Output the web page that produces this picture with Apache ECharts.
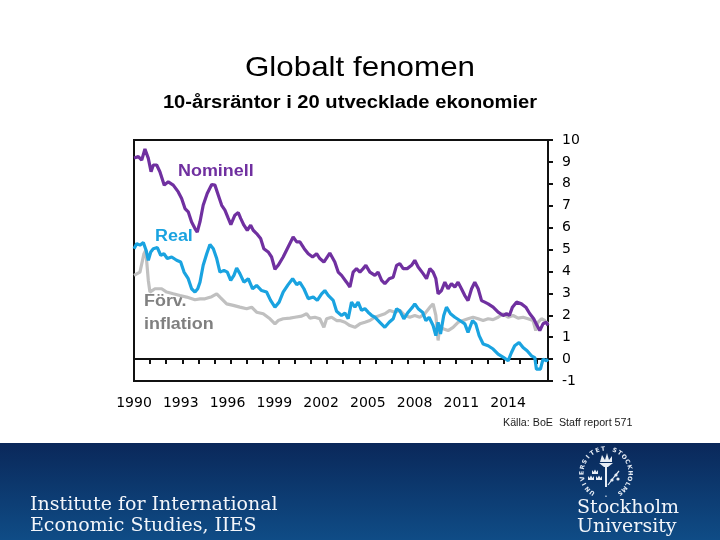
<!DOCTYPE html>
<html>
<head>
<meta charset="utf-8">
<script src="https://cdn.jsdelivr.net/npm/echarts@6/dist/echarts.min.js"></script>
<style>
  html, body { margin: 0; padding: 0; background: #ffffff; }
  #chart-root { width: 720px; height: 540px; }
</style>
</head>
<body>
<div id="chart-root"></div>
<script>
// 10-year yields, 20 advanced economies
const nomYears = [1990.00,1990.27,1990.48,1990.68,1990.89,1991.06,1991.20,1991.41,1991.61,1991.88,
  1992.13,1992.44,1992.75,1992.96,1993.17,1993.37,1993.58,1993.79,1993.93,1994.10,
  1994.30,1994.55,1994.83,1995.03,1995.24,1995.45,1995.65,1995.86,1996.02,1996.27,
  1996.48,1996.63,1996.83,1997.04,1997.25,1997.41,1997.62,1997.87,1998.07,1998.34,
  1998.55,1998.76,1998.96,1999.27,1999.58,1999.89,2000.11,2000.31,2000.58,2000.83,
  2001.10,2001.35,2001.55,2001.80,2002.17,2002.48,2002.69,2002.90,2003.21,2003.42,
  2003.62,2003.83,2004.04,2004.24,2004.41,2004.66,2004.97,2005.17,2005.39,2005.59,
  2005.86,2006.11,2006.32,2006.52,2006.73,2006.98,2007.25,2007.45,2007.66,2007.97,
  2008.18,2008.39,2008.59,2008.76,2008.90,2009.11,2009.32,2009.52,2009.73,2009.94,
  2010.14,2010.35,2010.56,2010.76,2010.98,2011.18,2011.39,2011.60,2011.80,2012.01,
  2012.32,2012.63,2012.94,2013.15,2013.33,2013.52,2013.77,2014.08,2014.35,2014.60,
  2014.84,2015.05,2015.22,2015.42,2015.63,2015.73];
const nomVals = [9.18,9.24,9.08,9.59,9.16,8.55,8.86,8.86,8.55,7.94,
  8.09,7.94,7.63,7.33,6.87,6.72,6.26,5.96,5.80,6.26,
  7.02,7.56,7.97,7.94,7.48,7.02,6.80,6.42,6.14,6.57,
  6.69,6.42,6.11,5.88,6.11,5.88,5.73,5.50,5.04,4.89,
  4.66,4.10,4.28,4.66,5.12,5.57,5.35,5.35,5.04,4.81,
  4.66,4.81,4.59,4.43,4.84,4.43,3.97,3.82,3.51,3.29,
  3.97,4.13,3.97,4.13,4.28,3.97,3.82,3.97,3.59,3.44,
  3.67,3.74,4.28,4.36,4.13,4.13,4.28,4.51,4.20,3.90,
  3.67,4.13,3.97,3.67,2.98,3.13,3.51,3.21,3.44,3.29,
  3.51,3.21,2.90,2.67,3.21,3.51,3.21,2.67,2.60,2.52,
  2.37,2.14,1.99,2.07,1.99,2.37,2.60,2.52,2.37,2.07,
  1.84,1.53,1.30,1.61,1.68,1.53];

const realYears = [1990.00,1990.17,1990.37,1990.58,1990.75,1990.89,1991.04,1991.20,1991.45,1991.66,
  1991.86,1992.07,1992.34,1992.65,1992.90,1993.11,1993.37,1993.58,1993.79,1993.96,
  1994.10,1994.30,1994.52,1994.72,1994.93,1995.14,1995.34,1995.59,1995.80,1996.01,
  1996.21,1996.38,1996.58,1996.83,1997.10,1997.37,1997.62,1997.93,1998.24,1998.49,
  1998.76,1999.02,1999.27,1999.58,1999.86,2000.11,2000.31,2000.56,2000.83,2001.14,
  2001.39,2001.66,2001.86,2002.07,2002.38,2002.59,2002.90,2003.11,2003.31,2003.52,
  2003.73,2003.93,2004.14,2004.35,2004.55,2004.76,2004.97,2005.28,2005.59,2005.86,
  2006.11,2006.32,2006.52,2006.77,2007.04,2007.31,2007.45,2007.66,2007.93,2008.14,
  2008.34,2008.59,2008.76,2008.90,2009.05,2009.25,2009.42,2009.67,2009.94,2010.25,
  2010.56,2010.76,2011.04,2011.24,2011.45,2011.70,2012.01,2012.32,2012.63,2012.98,
  2013.25,2013.46,2013.66,2013.93,2014.18,2014.43,2014.70,2014.91,2015.01,2015.26,
  2015.42,2015.63,2015.73];
const realVals = [5.04,5.27,5.20,5.32,4.97,4.51,4.89,5.04,5.09,4.74,
  4.81,4.59,4.66,4.51,4.43,3.97,3.67,3.21,3.06,3.21,
  3.51,4.28,4.81,5.23,5.04,4.59,3.97,4.05,3.97,3.59,
  3.82,4.15,3.90,3.51,3.67,3.21,3.36,3.13,3.06,2.68,
  2.37,2.60,3.06,3.40,3.67,3.40,3.50,3.21,2.76,2.83,
  2.68,2.98,3.13,2.91,2.68,2.18,1.99,2.10,1.84,2.60,
  2.37,2.60,2.22,2.30,2.14,2.00,1.91,1.68,1.45,1.68,
  1.84,2.30,2.20,1.84,2.14,2.37,2.52,2.30,2.14,1.76,
  1.91,1.53,1.07,1.68,1.15,1.99,2.37,2.07,1.91,1.76,
  1.61,1.22,1.76,1.61,1.07,0.69,0.61,0.46,0.23,0.07,
  -0.08,0.30,0.61,0.76,0.53,0.38,0.15,0.07,-0.46,-0.46,
  0.00,-0.08,0.00];

const inflYears = [1990.00,1990.37,1990.62,1990.73,1990.89,1990.99,1991.30,1991.72,1992.03,1992.44,
  1992.86,1993.27,1993.79,1994.10,1994.41,1994.83,1995.14,1995.34,1995.76,1996.17,
  1996.58,1997.00,1997.31,1997.62,1998.03,1998.45,1998.76,1998.96,1999.27,1999.69,
  2000.00,2000.42,2000.73,2000.93,2001.24,2001.55,2001.80,2001.97,2002.28,2002.59,
  2002.80,2003.11,2003.42,2003.73,2004.04,2004.35,2004.66,2004.97,2005.28,2005.59,
  2005.90,2006.21,2006.52,2006.83,2007.14,2007.45,2007.76,2008.07,2008.39,2008.59,
  2008.76,2008.90,2009.01,2009.21,2009.52,2009.83,2010.14,2010.45,2010.76,2011.07,
  2011.39,2011.70,2012.01,2012.32,2012.63,2012.94,2013.25,2013.56,2013.87,2014.18,
  2014.49,2014.80,2014.97,2015.11,2015.32,2015.53,2015.73];
const inflVals = [3.82,3.97,4.81,4.97,3.59,3.06,3.21,3.21,3.06,2.98,
  2.90,2.83,2.71,2.75,2.75,2.85,2.98,2.83,2.52,2.45,
  2.37,2.30,2.37,2.14,2.07,1.84,1.61,1.76,1.84,1.87,
  1.91,1.96,2.07,1.87,1.91,1.84,1.45,1.84,1.91,1.76,
  1.76,1.68,1.53,1.45,1.61,1.68,1.76,1.91,1.99,2.07,
  2.22,2.14,2.22,1.99,1.91,1.99,1.91,2.07,2.37,2.52,
  1.99,0.85,1.53,1.38,1.30,1.45,1.68,1.76,1.84,1.91,
  1.84,1.76,1.84,1.80,1.91,2.07,1.91,1.99,1.87,1.91,
  1.84,1.76,1.30,1.68,1.84,1.76,1.61];

const yearLabels = [1990, 1993, 1996, 1999, 2002, 2005, 2008, 2011, 2014];
const seriesNames = ['Förv. inflation', 'Real', 'Nominell'];

const C = {
  nom: '#7030a0',
  real: '#1aa3e0',
  infl: '#c0c0c0',
  axis: '#111111',
  text: '#000000',
};
const SANS = '"Liberation Sans", Arial, sans-serif';
const AXFONT = '"DejaVu Sans", Verdana, sans-serif';
const SERIF = '"DejaVu Serif", Georgia, serif';
const SX = 1.12; // slide text is a bit wide

const zip = (xs, ys) => xs.map((x, i) => [x, ys[i]]);

function txt(x, y, text, font, fill, align, scaleX) {
  return {
    type: 'text', x: x, y: y, scaleX: scaleX || 1, silent: true,
    style: {
      text: text, font: font, fill: fill,
      textAlign: align || 'left', textVerticalAlign: 'middle',
      align: align || 'left', verticalAlign: 'middle'
    }
  };
}

// seal: letters round a circle
function seal(cx, cy, r) {
  const els = [];
  const s = 'UNIVERSITET STOCKHOLMS';
  const a0 = 215, a1 = 505;
  for (let i = 0; i < s.length; i++) {
    const deg = a0 + (a1 - a0) * i / (s.length - 1);
    const th = deg * Math.PI / 180;
    els.push({
      type: 'text', x: cx + r * Math.sin(th), y: cy - r * Math.cos(th), rotation: -th, silent: true,
      style: { text: s[i], font: 'bold 6px "DejaVu Sans"', fill: '#e8eef6',
        textAlign: 'center', textVerticalAlign: 'middle', align: 'center', verticalAlign: 'middle' }
    });
  }
  els.push(txt(cx, cy + r, '•', '5px "DejaVu Sans"', '#e8eef6', 'center'));
  // torch
  els.push({ type: 'line', silent: true, shape: { x1: cx, y1: cy - 8, x2: cx, y2: cy + 14 },
    style: { stroke: '#e8eef6', lineWidth: 2 } });
  els.push({ type: 'polygon', silent: true,
    shape: { points: [[cx - 7, cy - 10], [cx + 7, cy - 10], [cx + 2, cy - 6], [cx - 2, cy - 6]] },
    style: { fill: '#e8eef6' } });
  els.push({ type: 'polygon', silent: true,
    shape: { points: [[cx - 6, cy - 11], [cx - 4, cy - 18], [cx - 1, cy - 13], [cx + 1, cy - 20], [cx + 3, cy - 13], [cx + 6, cy - 17], [cx + 6, cy - 11]] },
    style: { fill: '#e8eef6' } });
  // crowns
  [[cx - 11, cy - 1], [cx - 15, cy + 5], [cx - 7, cy + 5]].forEach(function (p) {
    els.push({ type: 'polygon', silent: true,
      shape: { points: [[p[0] - 3, p[1] + 2], [p[0] - 3, p[1] - 2], [p[0] - 1.5, p[1]], [p[0], p[1] - 2.5], [p[0] + 1.5, p[1]], [p[0] + 3, p[1] - 2], [p[0] + 3, p[1] + 2]] },
      style: { fill: '#e8eef6' } });
  });
  // branch
  els.push({ type: 'polyline', silent: true,
    shape: { points: [[cx + 2, cy + 12], [cx + 8, cy + 4], [cx + 13, cy - 2]] },
    style: { stroke: '#e8eef6', lineWidth: 1.2, fill: null } });
  [[cx + 6, cy + 7], [cx + 10, cy + 2], [cx + 12, cy + 6]].forEach(function (p) {
    els.push({ type: 'circle', silent: true, shape: { cx: p[0], cy: p[1], r: 1.6 }, style: { fill: '#e8eef6' } });
  });
  return els;
}

const chart = echarts.init(document.getElementById('chart-root'), null, { renderer: 'canvas' });

const option = {
  backgroundColor: '#ffffff',
  animation: false,
  grid: {
    left: 134, right: 172, top: 140, bottom: 159,
    show: true, borderColor: '#111111', borderWidth: 2, backgroundColor: 'transparent',
    containLabel: false, outerBoundsMode: 'none'
  },
  xAxis: [
    {
      // zero line with yearly ticks
      type: 'value', min: 1990, max: 2015.73, interval: 1,
      axisLine: { show: true, onZero: true, lineStyle: { color: C.axis, width: 2 } },
      axisTick: { show: true, inside: false, length: 5, lineStyle: { color: C.axis, width: 2 } },
      axisLabel: { show: false },
      splitLine: { show: false }
    },
    {
      // year labels (slide labels sit on their own spacing)
      type: 'value', position: 'bottom', min: 1990, max: 2016.56, interval: 3,
      axisLine: { show: false, onZero: false },
      axisTick: { show: false },
      splitLine: { show: false },
      axisLabel: {
        show: true, margin: 15, color: C.text, fontFamily: AXFONT, fontSize: 14,
        showMaxLabel: false,
        formatter: function (v) { return yearLabels.indexOf(Math.round(v)) >= 0 ? String(Math.round(v)) : ''; }
      }
    }
  ],
  yAxis: {
    type: 'value', position: 'right', min: -1, max: 10, interval: 1,
    axisLine: { show: true, lineStyle: { color: C.axis, width: 2 } },
    axisTick: { show: true, inside: false, length: 5, lineStyle: { color: C.axis, width: 2 } },
    axisLabel: { margin: 14, color: C.text, fontFamily: AXFONT, fontSize: 14 },
    splitLine: { show: false }
  },
  series: [
    { name: seriesNames[0], type: 'line', xAxisIndex: 0, data: zip(inflYears, inflVals), showSymbol: false,
      lineStyle: { color: C.infl, width: 3.2 }, itemStyle: { color: C.infl }, z: 2 },
    { name: seriesNames[1], type: 'line', xAxisIndex: 0, data: zip(realYears, realVals), showSymbol: false,
      lineStyle: { color: C.real, width: 3.2 }, itemStyle: { color: C.real }, z: 3 },
    { name: seriesNames[2], type: 'line', xAxisIndex: 0, data: zip(nomYears, nomVals), showSymbol: false,
      lineStyle: { color: C.nom, width: 3.2 }, itemStyle: { color: C.nom }, z: 4 }
  ],
  graphic: [
    txt(360, 68, 'Globalt fenomen', '28px ' + SANS, '#000000', 'center', SX),
    txt(350, 103, '10-årsräntor i 20 utvecklade ekonomier', 'bold 18px ' + SANS, '#000000', 'center', SX),
    txt(178, 172, 'Nominell', 'bold 16px ' + SANS, C.nom, 'left', SX),
    txt(155, 237, 'Real', 'bold 16px ' + SANS, C.real, 'left', SX),
    txt(144, 302, 'Förv.', 'bold 16px ' + SANS, '#808080', 'left', SX),
    txt(144, 325, 'inflation', 'bold 16px ' + SANS, '#808080', 'left', SX),
    txt(503, 423, 'Källa: BoE  Staff report 571', '10px ' + SANS, '#1a1a1a', 'left', 1.07),
    {
      type: 'rect', silent: true, z: -1,
      shape: { x: 0, y: 443, width: 720, height: 97 },
      style: {
        fill: { type: 'linear', x: 0, y: 0, x2: 0, y2: 1,
          colorStops: [{ offset: 0, color: '#0a285a' }, { offset: 1, color: '#0f4c86' }] }
      }
    },
    txt(30, 505, 'Institute for International', '19px ' + SERIF, '#f2f5fa', 'left'),
    txt(30, 526, 'Economic Studies, IIES', '19px ' + SERIF, '#f2f5fa', 'left'),
    txt(577, 508, 'Stockholm', '19px ' + SERIF, '#f2f5fa', 'left'),
    txt(577, 527, 'University', '19px ' + SERIF, '#f2f5fa', 'left')
  ].concat(seal(606, 473, 24))
};

chart.setOption(option);
</script>
</body>
</html>
